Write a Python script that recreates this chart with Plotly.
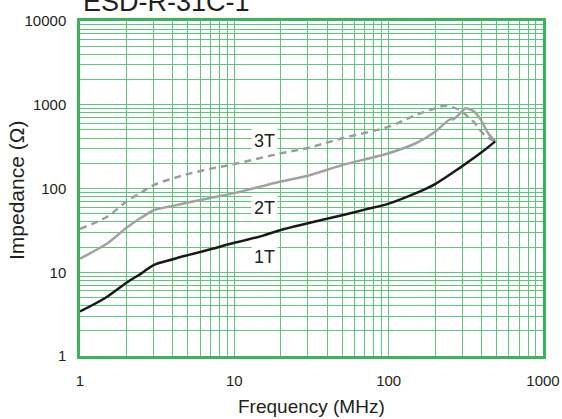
import plotly.graph_objects as go

title_text = "ESD-R-31C-1"

freq_1t = [1, 1.5, 2, 2.5, 3, 4, 5, 7, 10, 15, 20, 30, 50, 70, 100, 150, 200, 300, 400, 490]
imp_1t = [3.4, 5.1, 7.5, 9.7, 12.2, 14.3, 16, 18.8, 22.5, 27, 32, 38.5, 48, 56, 66, 88, 113, 185, 270, 365]

freq_2t = [1, 1.5, 2, 2.5, 3, 4, 5, 7, 10, 20, 30, 50, 100, 150, 200, 249, 264, 290, 315, 350, 390, 440, 490]
imp_2t = [14.5, 22, 34, 45, 55, 62, 68, 77, 88, 121, 142, 190, 264, 347, 477, 670, 672, 790, 906, 850, 690, 460, 365]

freq_3t = [1, 1.5, 2, 2.5, 3, 4, 5, 7, 10, 20, 30, 50, 100, 150, 200, 225, 250, 287, 354, 418, 490]
imp_3t = [33, 46, 70, 90, 110, 132, 149, 172, 196, 263, 305, 398, 547, 754, 906, 966, 950, 866, 628, 435, 365]

x_tick_vals = [1, 10, 100, 1000]
x_tick_text = ["1", "10", "100", "1000"]
y_tick_vals = [1, 10, 100, 1000, 10000]
y_tick_text = ["1", "10", "100", "1000", "10000"]

series_labels = ["1T", "2T", "3T"]

FONT = "Liberation Sans, Arial, sans-serif"
GRID = "#5ec57a"
BORDER = "#3bb45a"
TXT = "#231f20"

def grid_vals(lo_dec, hi_dec):
    vals = []
    for d in range(lo_dec, hi_dec):
        for m in range(1, 10):
            vals.append(m * 10 ** d)
    vals.append(10 ** hi_dec)
    return vals

xg = grid_vals(0, 3)
yg = grid_vals(0, 4)
xg_text = [x_tick_text[x_tick_vals.index(v)] if v in x_tick_vals else "" for v in xg]
yg_text = [y_tick_text[y_tick_vals.index(v)] if v in y_tick_vals else "" for v in yg]

fig = go.Figure()
fig.add_trace(go.Scatter(x=freq_3t, y=imp_3t, mode="lines", line=dict(color="#9d9d9d", width=2.5, dash="7px,5px", shape="spline"), showlegend=False))
fig.add_trace(go.Scatter(x=freq_2t, y=imp_2t, mode="lines", line=dict(color="#a2a2a2", width=2.5, shape="spline", smoothing=0.6), showlegend=False))
fig.add_trace(go.Scatter(x=freq_1t, y=imp_1t, mode="lines", line=dict(color="#1a1a1a", width=2.5, shape="spline"), showlegend=False))

W, H = 562, 419
L, R, T, B = 80, 543, 21, 356

def px(x):
    return (x - L) / (R - L)

def py(y):
    return (B - y) / (B - T)

annotations = [
    dict(text=title_text, x=px(81), y=py(2), xref="paper", yref="paper", xanchor="left", yanchor="middle",
         showarrow=False, font=dict(family=FONT, size=27, color=TXT)),
    dict(text="Frequency (MHz)", x=px(311), y=py(407), xref="paper", yref="paper", xanchor="center", yanchor="middle",
         showarrow=False, font=dict(family=FONT, size=19, color=TXT)),
    dict(text="Impedance (Ω)", x=px(16), y=py(191), xref="paper", yref="paper", xanchor="center", yanchor="middle",
         textangle=-90, showarrow=False, font=dict(family=FONT, size=21, color=TXT)),
]
label_pos = {"3T": (264, 141), "2T": (264, 208), "1T": (264, 257)}
for lab in series_labels:
    lx, ly = label_pos[lab]
    annotations.append(dict(text=lab, x=px(lx), y=py(ly), xref="paper", yref="paper", xanchor="center", yanchor="middle",
                            showarrow=False, bgcolor="white", borderpad=2,
                            font=dict(family=FONT, size=18, color=TXT)))

fig.update_layout(
    width=W, height=H,
    margin=dict(l=L, r=W - R, t=T, b=H - B, autoexpand=False),
    paper_bgcolor="white", plot_bgcolor="white",
    annotations=annotations,
    font=dict(family=FONT, size=15, color=TXT),
)
common = dict(type="log", tickmode="array", showgrid=True, gridcolor=GRID, gridwidth=1, zeroline=False,
              showline=True, linecolor=BORDER, linewidth=2.5, mirror=True, ticks="", automargin=False,
              tickfont=dict(size=15, family=FONT, color=TXT))
fig.update_xaxes(range=[0, 3], tickvals=xg, ticktext=xg_text, ticklabelstandoff=9, **common)
fig.update_yaxes(range=[0, 4], tickvals=yg, ticktext=yg_text, ticklabelstandoff=8, **common)

fig.write_html("out.html", config={"displayModeBar": False},
               post_script="document.body.style.margin='0';document.body.style.padding='0';")
